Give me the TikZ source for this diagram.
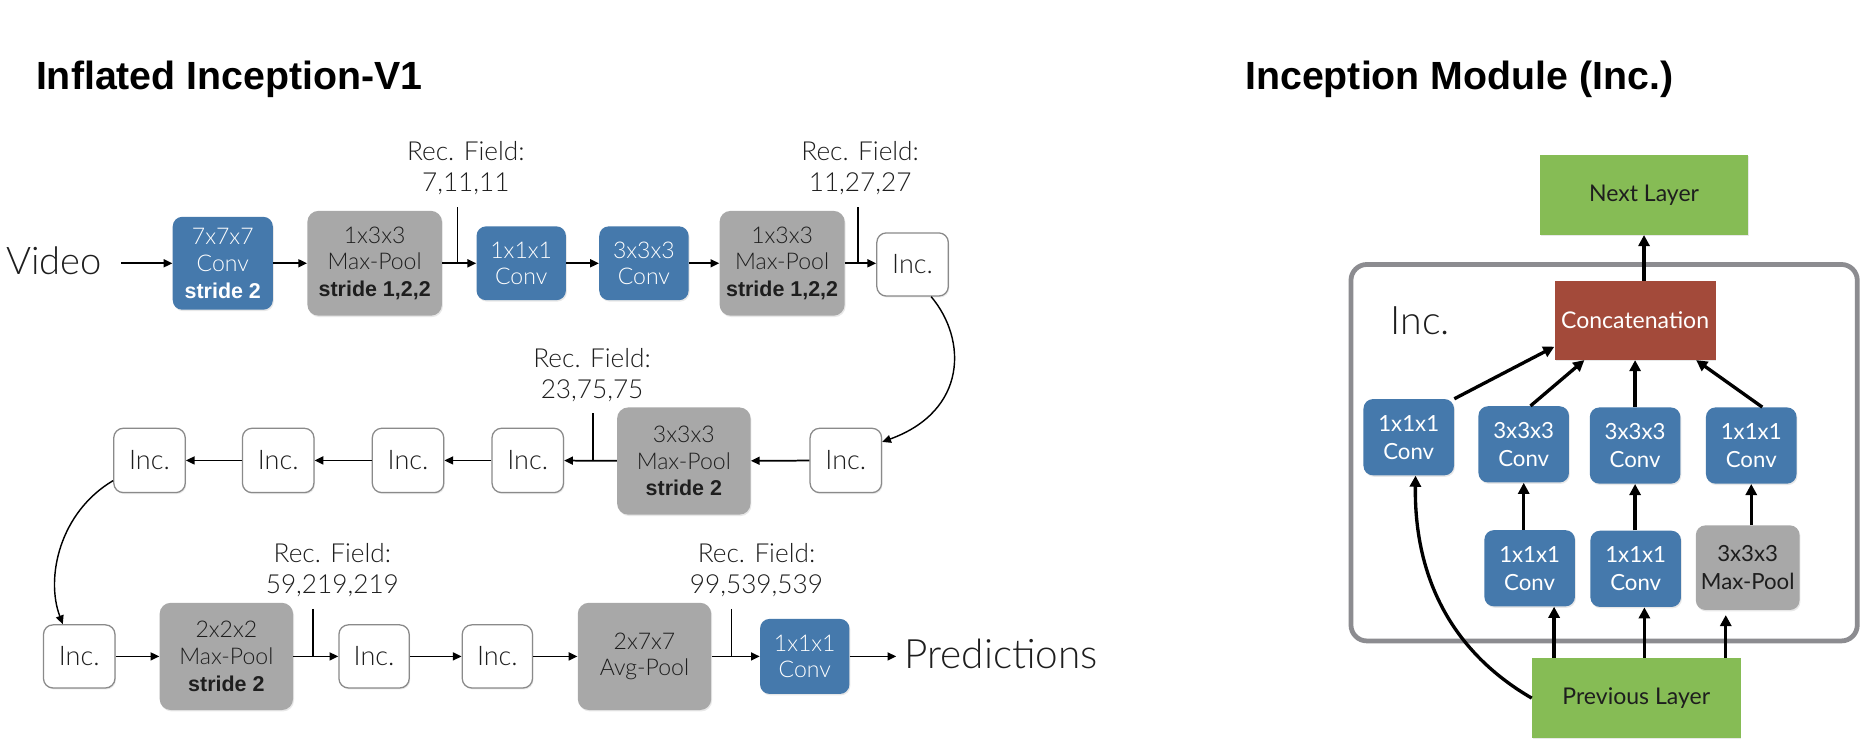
\documentclass[tikz,border=0pt]{standalone}
\usepackage{fontspec}
\setmainfont{Lato Light}
\newfontfamily\lr{Lato}
\newfontfamily\hb{Liberation Sans}
\newcommand{\strd}[1]{{\hb\bfseries\fontsize{13.5pt}{16.8pt}\selectfont #1}}
\usetikzlibrary{arrows.meta,shadows}
\definecolor{cblue}{HTML}{4579AC}
\definecolor{cgray}{HTML}{A8A8A8}
\definecolor{cgreen}{HTML}{86BC55}
\definecolor{cred}{HTML}{A34A3A}
\definecolor{cframe}{HTML}{8C8C90}
\definecolor{cinc}{HTML}{8A8A8A}
\definecolor{ctext}{HTML}{1E1E1E}
\tikzset{
  sz/.style 2 args={minimum width=#1*0.75pt, minimum height=#2*0.75pt},
  base/.style={inner sep=0pt, align=center, drop shadow={shadow xshift=0.6pt, shadow yshift=-0.9pt, opacity=0.18}},
  lfont/.style={font=\fontsize{14.5pt}{16.8pt}\selectfont},
  bluebox/.style={base, lfont, fill=cblue, text=white, rounded corners=6pt},
  graybox/.style={base, lfont, fill=cgray, text=ctext, rounded corners=7pt},
  incbox/.style={base, draw=cinc, line width=0.8pt, fill=white, text=ctext, rounded corners=6pt,
     font=\fontsize{17pt}{19pt}\selectfont, sz={60}{54}},
  recf/.style={align=center, inner sep=0pt, text=ctext, font=\fontsize{16.5pt}{19.5pt}\selectfont},
  larr/.style={line width=1.1pt, -{Triangle[length=5.5pt,width=5pt]}},
  tick/.style={line width=1.1pt},
  rfont/.style={font=\lr\fontsize{14pt}{17.7pt}\selectfont},
  rblue/.style={base, rfont, fill=cblue, text=white, rounded corners=6pt, sz={76}{64}},
  rgray/.style={base, rfont, fill=cgray, text=ctext, rounded corners=6pt},
  rgreen/.style={base, fill=cgreen, text=ctext, font=\lr\fontsize{14.5pt}{17pt}\selectfont, sz={175}{67}},
  rarr/.style={line width=2.1pt, -{Triangle[length=7pt,width=7pt]}},
  title/.style={inner sep=0pt, anchor=base west, text=black, font=\hb\bfseries\fontsize{24.75pt}{30pt}\selectfont}
}
\begin{document}
\begin{tikzpicture}[x=0.75pt,y=-0.75pt]
\useasboundingbox[fill=white] (0,0) rectangle (1568,630);

% titles
\node[title] (t1) at (30,75) {Inflated Inception-V1};
\node[title] (t2) at (1045,75) {Inception Module (Inc.)};

% ---------- row 1 ----------
\node[inner sep=0pt, font=\fontsize{24pt}{28pt}\selectfont, text=ctext] (video) at (45.5,219) {Video};
\node[bluebox, sz={84}{78}] (c7) at (187,221) {7x7x7\\Conv\\\strd{stride 2}};
\node[graybox, sz={113}{88}] (mp1) at (314.5,221) {1x3x3\\Max-Pool\\\strd{stride 1,2,2}};
\node[bluebox, sz={75}{62}] (c1) at (437.5,221) {1x1x1\\Conv};
\node[bluebox, sz={75}{62}] (c3) at (540.5,221) {3x3x3\\Conv};
\node[graybox, sz={105}{88}] (mp2) at (656.5,221) {1x3x3\\Max-Pool\\\strd{stride 1,2,2}};
\node[incbox, sz={60}{53}] (i0) at (766,222) {Inc.};

\node[recf] (rf1) at (391,141) {Rec. Field:\\7,11,11};
\node[recf] (rf2) at (722,141) {Rec. Field:\\11,27,27};

\coordinate (vs) at ([xshift=12pt]video.east);
\draw[larr] (vs |- c7) -- (c7);
\draw[larr] (c7) -- (mp1);
\draw[larr] (mp1) -- (c1);
\draw[larr] (c1) -- (c3);
\draw[larr] (c3) -- (mp2);
\draw[larr] (mp2) -- (i0.west |- mp2);
\coordinate (k1) at (384,174);
\coordinate (k2) at (720,174);
\draw[tick] (k1) -- (k1 |- c1);
\draw[tick] (k2) -- (k2 |- mp2);

% ---------- row 2 ----------
\node[incbox] (iA) at (710,386.5) {Inc.};
\node[graybox, sz={112}{90}] (mp3) at (574,387) {3x3x3\\Max-Pool\\\strd{stride 2}};
\node[incbox] (iB) at (443,386.5) {Inc.};
\node[incbox] (iC) at (342.5,386.5) {Inc.};
\node[incbox] (iD) at (233.5,386.5) {Inc.};
\node[incbox] (iE) at (125.5,386.5) {Inc.};
\node[recf] (rf3) at (497,314.5) {Rec. Field:\\23,75,75};

\draw[larr, line width=0.9pt] (i0.-60) .. controls (812,285) and (812,345) .. (iA.27);
\draw[larr] (iA) -- (mp3);
\draw[larr] (mp3) -- (iB);
\draw[larr] (iB) -- (iC);
\draw[larr] (iC) -- (iD);
\draw[larr] (iD) -- (iE);
\coordinate (k3) at (498,347);
\draw[tick] (k3) -- (k3 |- mp3);

% ---------- row 3 ----------
\node[incbox, sz={60}{53}] (iF) at (66.5,551) {Inc.};
\node[graybox, sz={112}{90}] (mp4) at (190,551) {2x2x2\\Max-Pool\\\strd{stride 2}};
\node[incbox, sz={59}{53}] (iG) at (314,551) {Inc.};
\node[incbox, sz={59}{53}] (iH) at (417.5,551) {Inc.};
\node[graybox, sz={112}{90}] (ap) at (541,551) {2x7x7\\Avg-Pool};
\node[bluebox, sz={75}{63}] (cf) at (675.5,551) {1x1x1\\Conv};
\node[inner sep=0pt, anchor=west, font=\fontsize{25.5pt}{30pt}\selectfont, text=ctext] (pred) at (759,549) {Predictions};
\node[recf] (rf4) at (279,478.5) {Rec. Field:\\59,219,219};
\node[recf] (rf5) at (635,478.5) {Rec. Field:\\99,539,539};

\draw[larr, line width=0.9pt] (iE.209) .. controls (50,430) and (38,485) .. (iF.117);
\draw[larr] (iF) -- (mp4);
\draw[larr] (mp4) -- (iG);
\draw[larr] (iG) -- (iH);
\draw[larr] (iH) -- (ap);
\draw[larr] (ap) -- (cf);
\coordinate (pe) at ([xshift=-5pt]pred.west);
\draw[larr] (cf) -- (pe |- cf);
\coordinate (k4) at (263,511);
\coordinate (k5) at (614,511);
\draw[tick] (k4) -- (k4 |- mp4);
\draw[tick] (k5) -- (k5 |- ap);

% ---------- inception module ----------
\node[draw=cframe, line width=3pt, rounded corners=10pt, sz={425}{316}, inner sep=0pt] (frame) at (1346.5,380) {};
\node[inner sep=0pt, text=ctext, font=\fontsize{24.75pt}{30pt}\selectfont] (inclab) at (1192,269) {Inc.};
\node[rgreen] (next) at (1380,163.5) {Next Layer};
\node[base, fill=cred, text=white, font=\lr\fontsize{14.5pt}{17pt}\selectfont, sz={135}{66}] (concat) at (1372.5,269) {Concatenation};
\node[rblue] (r1a) at (1182.5,367) {1x1x1\\Conv};
\node[rblue] (r1b) at (1279,373) {3x3x3\\Conv};
\node[rblue] (r1c) at (1372.5,374) {3x3x3\\Conv};
\node[rblue] (r1d) at (1470,374) {1x1x1\\Conv};
\node[rblue] (r2a) at (1284,477) {1x1x1\\Conv};
\node[rblue] (r2b) at (1373,477.5) {1x1x1\\Conv};
\node[rgray, sz={87}{71}] (r2c) at (1467,476.5) {3x3x3\\Max-Pool};
\node[rgreen] (prev) at (1373.5,586) {Previous Layer};

\draw[rarr] (concat.north -| next.south) -- (next.south);
\draw[rarr] (r1a.north east) -- (concat.198);
\draw[rarr] (r1b.80) -- (concat.218.5);
\draw[rarr] (r1c.north) -- (r1c.north |- concat.south);
\draw[rarr] (r1d.74) -- (concat.-33.7);
\draw[rarr] (r2a.north -| r1b.south) -- (r1b.south);
\draw[rarr] (r2b.north -| r1c.south) -- (r1c.south);
\draw[rarr] (r2c.north -| r1d.south) -- (r1d.south);
\coordinate (pa) at (1304.5,0);
\coordinate (pb) at (1380.3,0);
\coordinate (pc) at (1448.6,0);
\draw[rarr] (prev.north -| pa) -- (r2a.south -| pa);
\draw[rarr] (prev.north -| pb) -- (r2b.south -| pb);
\coordinate (pcend) at ([yshift=-3pt]r2c.south);
\draw[rarr] (prev.north -| pc) -- (pcend -| pc);
\draw[rarr] (prev.west) .. controls (1215,545) and (1187,480) .. (r1a.-80);
\end{tikzpicture}
\end{document}
